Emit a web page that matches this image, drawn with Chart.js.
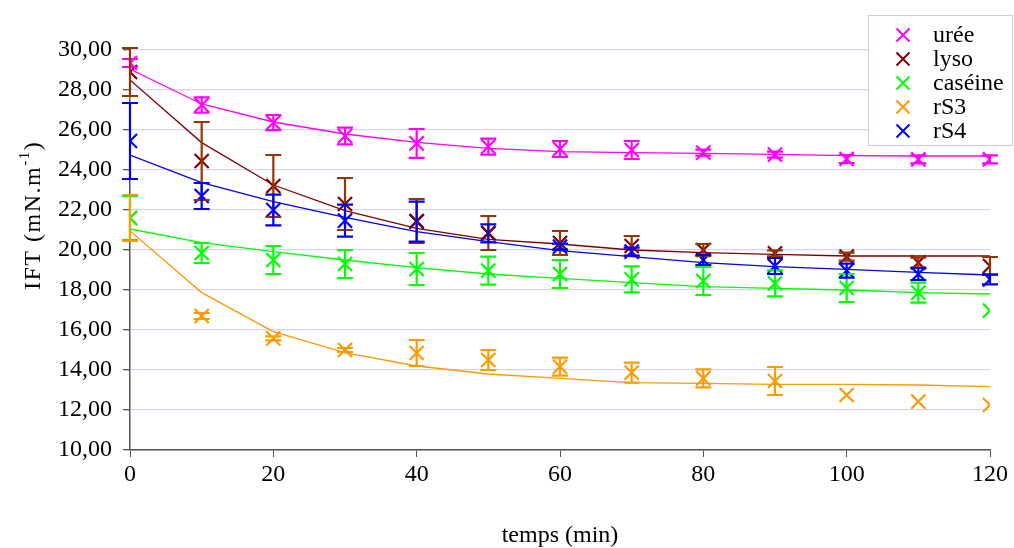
<!DOCTYPE html>
<html>
<head>
<meta charset="utf-8">
<script src="https://cdn.jsdelivr.net/npm/chart.js@4.4.1/dist/chart.umd.min.js"></script>
<style>
  body { margin: 0; background: #fff; }
  #wrap { width: 1014px; height: 548px; }
</style>
</head>
<body>
<div id="wrap"><canvas id="chart"></canvas></div>
<script>
// time in minutes
const times = [0, 10, 20, 30, 40, 50, 60, 70, 80, 90, 100, 110, 120];

const uree    = [29.35, 27.25, 26.37, 25.7, 25.33, 25.17, 25.05, 25.0, 24.87, 24.77, 24.55, 24.53, 24.53];
const ureeErr = [0.2, 0.38, 0.38, 0.42, 0.72, 0.4, 0.4, 0.45, 0.15, 0.15, 0.2, 0.2, 0.2];
const ureeFit = [29.05, 27.3, 26.4, 25.8, 25.38, 25.08, 24.92, 24.87, 24.83, 24.78, 24.72, 24.7, 24.7];

const lyso    = [28.9, 24.45, 23.2, 22.3, 21.45, 20.85, 20.35, 20.2, 20.0, 19.83, 19.67, 19.37, 19.2];
const lysoErr = [1.2, 1.95, 1.55, 1.3, 1.1, 0.85, 0.6, 0.5, 0.3, 0.15, 0.2, 0.25, 0.45];
const lysoFit = [28.5, 25.37, 23.25, 21.97, 21.08, 20.53, 20.3, 20.0, 19.87, 19.78, 19.7, 19.7, 19.7];

const caseine    = [21.6, 19.85, 19.5, 19.3, 19.05, 18.97, 18.8, 18.53, 18.45, 18.33, 18.1, 17.87, 16.97];
const caseineErr = [1.1, 0.5, 0.7, 0.7, 0.8, 0.7, 0.7, 0.65, 0.7, 0.65, 0.7, 0.5, null];
const caseineFit = [21.05, 20.37, 19.92, 19.5, 19.12, 18.8, 18.58, 18.37, 18.17, 18.08, 18.0, 17.87, 17.8];

const rs3    = [21.6, 16.7, 15.58, 15.0, 14.85, 14.5, 14.17, 13.87, 13.58, 13.45, 12.75, 12.42, 12.25];
const rs3Err = [1.15, 0.15, 0.1, 0.1, 0.65, 0.5, 0.45, 0.5, 0.45, 0.7, null, null, null];
const rs3Fit = [20.95, 17.87, 15.92, 14.87, 14.2, 13.8, 13.58, 13.37, 13.33, 13.28, 13.28, 13.25, 13.17];

const rs4    = [25.45, 22.7, 22.0, 21.47, 21.42, 20.83, 20.17, 19.92, 19.5, 19.2, 18.97, 18.8, 18.53];
const rs4Err = [1.9, 0.65, 0.77, 0.8, 1.0, 0.45, 0.15, 0.2, 0.25, 0.4, 0.35, 0.3, 0.25];
const rs4Fit = [24.75, 23.37, 22.42, 21.63, 20.92, 20.42, 19.97, 19.67, 19.37, 19.17, 19.03, 18.88, 18.75];

const series = [
  { label: 'urée',    vals: uree,    err: ureeErr,    fit: ureeFit,    color: '#ff00ff', errColor: '#ff00ff' },
  { label: 'lyso',    vals: lyso,    err: lysoErr,    fit: lysoFit,    color: '#800000', errColor: '#993300' },
  { label: 'caséine', vals: caseine, err: caseineErr, fit: caseineFit, color: '#00ff00', errColor: '#00ff00' },
  { label: 'rS3',     vals: rs3,     err: rs3Err,     fit: rs3Fit,     color: '#ff9900', errColor: '#ff9900' },
  { label: 'rS4',     vals: rs4,     err: rs4Err,     fit: rs4Fit,     color: '#0000ff', errColor: '#0000ff' }
];

const toPts = arr => arr.map((v, i) => ({ x: times[i], y: v }));

let datasets = [];
series.forEach(s => {
  datasets.push({
    type: 'line',
    label: s.label + ' fit',
    data: toPts(s.fit),
    borderColor: s.color,
    borderWidth: 1.3,
    pointRadius: 0,
    fill: false,
    tension: 0
  });
});
series.forEach(s => {
  datasets.push({
    type: 'scatter',
    label: s.label,
    data: toPts(s.vals),
    errors: s.err,
    errColor: s.errColor,
    pointStyle: 'crossRot',
    pointRadius: 10,
    borderWidth: 2.2,
    borderColor: s.color,
    backgroundColor: s.color
  });
});

const serif = '"Liberation Serif", "Times New Roman", serif';

// error bars, drawn with the chart scales
const errorBars = {
  id: 'errorBars',
  afterDatasetsDraw(chart) {
    const ctx = chart.ctx;
    const xs = chart.scales.x, ys = chart.scales.y;
    ctx.save();
    chart.data.datasets.forEach(ds => {
      if (!ds.errors) return;
      ctx.strokeStyle = ds.errColor;
      ctx.lineWidth = 2.2;
      ds.data.forEach((p, i) => {
        const e = ds.errors[i];
        if (e == null) return;
        const px = xs.getPixelForValue(p.x);
        const top = ys.getPixelForValue(p.y + e);
        const bot = ys.getPixelForValue(p.y - e);
        ctx.beginPath();
        ctx.moveTo(px, top); ctx.lineTo(px, bot);
        ctx.moveTo(px - 8, top); ctx.lineTo(px + 8, top);
        ctx.moveTo(px - 8, bot); ctx.lineTo(px + 8, bot);
        ctx.stroke();
      });
    });
    ctx.restore();
  }
};

// boxed legend in the top right corner, plus the y title with its superscript
const extras = {
  id: 'extras',
  afterDraw(chart) {
    const ctx = chart.ctx;
    ctx.save();
    ctx.fillStyle = '#fff';
    ctx.strokeStyle = '#c8c8f0';
    ctx.lineWidth = 1;
    ctx.fillRect(868, 15, 144, 130);
    ctx.strokeRect(868.5, 15.5, 144, 130);
    ctx.font = '24px ' + serif;
    ctx.textBaseline = 'middle';
    series.forEach((s, i) => {
      const y = 35 + i * 24;
      const x = 903;
      ctx.strokeStyle = s.color;
      ctx.lineWidth = 2;
      ctx.beginPath();
      ctx.moveTo(x - 6.5, y - 6.5); ctx.lineTo(x + 6.5, y + 6.5);
      ctx.moveTo(x + 6.5, y - 6.5); ctx.lineTo(x - 6.5, y + 6.5);
      ctx.stroke();
      ctx.fillStyle = '#000';
      ctx.fillText(s.label, 933, y + 1);
    });
    ctx.restore();

    // y title: IFT (mN.m-1) with -1 raised
    ctx.save();
    ctx.translate(40, 290);
    ctx.rotate(-Math.PI / 2);
    ctx.fillStyle = '#000';
    ctx.textBaseline = 'alphabetic';
    ctx.letterSpacing = '1.5px';
    ctx.font = '24px ' + serif;
    const main = 'IFT (mN.m';
    ctx.fillText(main, 0, 0);
    let w = ctx.measureText(main).width;
    ctx.font = '15px ' + serif;
    ctx.fillText('-1', w, -11);
    w += ctx.measureText('-1').width;
    ctx.font = '24px ' + serif;
    ctx.fillText(')', w, 0);
    ctx.restore();
  }
};

new Chart(document.getElementById('chart'), {
  type: 'scatter',
  data: { datasets: datasets },
  options: {
    responsive: true,
    maintainAspectRatio: false,
    animation: false,
    layout: { padding: { top: 50, right: 24, left: 0, bottom: 0 } },
    plugins: {
      legend: { display: false },
      tooltip: { enabled: false }
    },
    scales: {
      x: {
        type: 'linear',
        min: 0, max: 120,
        ticks: { stepSize: 20, color: '#000', padding: 3, font: { family: serif, size: 24 } },
        grid: { display: true, drawOnChartArea: false, drawTicks: true, tickLength: 7, tickColor: '#555' },
        border: { color: '#555', width: 1.5 },
        title: { display: true, text: 'temps (min)', color: '#000', padding: 0,
                 font: { family: serif, size: 24, lineHeight: 1 } },
        afterFit(scale) { scale.height = 98; }
      },
      y: {
        min: 10, max: 30,
        ticks: {
          stepSize: 2, color: '#000', padding: 11,
          font: { family: serif, size: 24 },
          callback: v => v.toFixed(2).replace('.', ',')
        },
        grid: { color: '#d4d4fa', lineWidth: 1.3, drawTicks: true, tickLength: 7, tickColor: '#555' },
        border: { color: '#555', width: 1.5 },
        afterFit(scale) { scale.width = 130; }
      }
    }
  },
  plugins: [errorBars, extras]
});
</script>
</body>
</html>
